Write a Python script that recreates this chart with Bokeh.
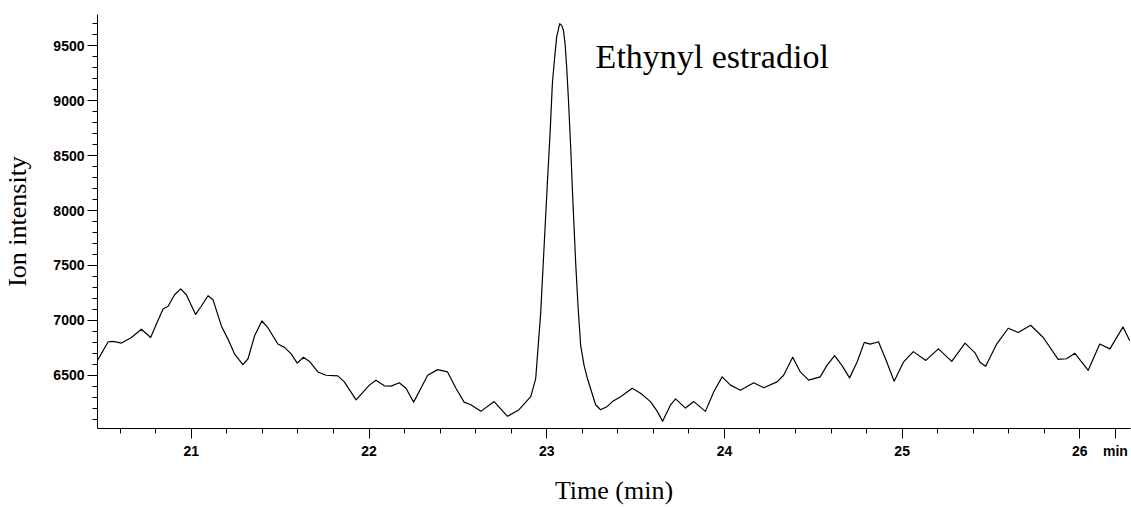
from bokeh.plotting import figure
from bokeh.models import FixedTicker, Range1d, Label
from bokeh.embed import file_html
from bokeh.resources import INLINE

# Retention time (min) and ion intensity
time_min = [20.466, 20.532, 20.560, 20.607, 20.663, 20.719, 20.771, 20.803, 20.841, 20.869,
            20.906, 20.940, 20.972, 21.024, 21.056, 21.094, 21.122, 21.169, 21.206, 21.243,
            21.290, 21.319, 21.356, 21.397, 21.431, 21.487, 21.524, 21.562, 21.596, 21.631,
            21.665, 21.712, 21.758, 21.824, 21.861, 21.927, 22.002, 22.039, 22.086, 22.124,
            22.170, 22.208, 22.251, 22.292, 22.330, 22.386, 22.442, 22.489, 22.535, 22.573,
            22.629, 22.704, 22.779, 22.844, 22.910, 22.938, 22.966, 22.985, 23.004, 23.019,
            23.032, 23.045, 23.056, 23.073, 23.084, 23.094, 23.103, 23.112, 23.122, 23.135,
            23.148, 23.163, 23.176, 23.191, 23.210, 23.229, 23.275, 23.303, 23.341,
            23.369, 23.416, 23.481, 23.528, 23.584, 23.622, 23.652, 23.697, 23.725, 23.781,
            23.828, 23.893, 23.940, 23.987, 24.034, 24.090, 24.165, 24.221, 24.296, 24.333,
            24.384, 24.427, 24.474, 24.539, 24.577, 24.620, 24.661, 24.704, 24.746, 24.787,
            24.820, 24.867, 24.914, 24.955, 25.007, 25.063, 25.133, 25.204, 25.279, 25.354,
            25.410, 25.438, 25.470, 25.532, 25.597, 25.653, 25.723, 25.794, 25.878, 25.925,
            25.972, 26.047, 26.112, 26.169, 26.243, 26.281]
intensity = [6619, 6805, 6808, 6793, 6844, 6919, 6844, 6964, 7104, 7128,
             7233, 7287, 7233, 7054, 7128, 7224, 7188, 6949, 6829, 6695,
             6596, 6650, 6859, 6994, 6933, 6784, 6754, 6695, 6610, 6664,
             6626, 6530, 6500, 6494, 6440, 6276, 6410, 6455, 6404, 6401,
             6431, 6381, 6255, 6381, 6500, 6551, 6530, 6381, 6255, 6231,
             6171, 6260, 6126, 6186, 6305, 6470, 7068, 7667, 8265, 8714,
             9163, 9401, 9581, 9701, 9686, 9641, 9522, 9312, 9013, 8564,
             8055, 7517, 7128, 6769, 6590, 6470, 6231, 6186, 6216,
             6260, 6305, 6381, 6336, 6260, 6171, 6081, 6231, 6285, 6201,
             6260, 6171, 6350, 6485, 6410, 6363, 6431, 6386, 6440, 6500,
             6664, 6530, 6455, 6485, 6590, 6679, 6590, 6476, 6619, 6799,
             6784, 6805, 6619, 6446, 6619, 6715, 6635, 6740, 6626, 6793,
             6704, 6619, 6581, 6784, 6928, 6889, 6955, 6844, 6644, 6650,
             6700, 6545, 6784, 6740, 6940, 6814]

x_major = [21, 22, 23, 24, 25, 26, 26.2]
x_labels = ["21", "22", "23", "24", "25", "26", "min"]
x_minor = [20.6, 20.8, 21.2, 21.4, 21.6, 21.8, 22.2, 22.4, 22.6, 22.8, 23.2, 23.4, 23.6, 23.8,
           24.2, 24.4, 24.6, 24.8, 25.2, 25.4, 25.6, 25.8]
y_major = [6500, 7000, 7500, 8000, 8500, 9000, 9500]
y_minor = [6100, 6200, 6300, 6400, 6600, 6700, 6800, 6900, 7100, 7200, 7300, 7400,
           7600, 7700, 7800, 7900, 8100, 8200, 8300, 8400, 8600, 8700, 8800, 8900,
           9100, 9200, 9300, 9400, 9600, 9700]

title_text = "Ethynyl estradiol"
x_label = "Time (min)"
y_label = "Ion intensity"

p = figure(width=1131, height=507, output_backend="svg", toolbar_location=None,
           x_range=Range1d(20.472, 26.285), y_range=Range1d(6015, 9785),
           min_border_left=96, min_border_right=1, min_border_top=14, min_border_bottom=73)
p.outline_line_color = None
p.grid.visible = False
p.background_fill_color = "white"
p.border_fill_color = "white"

p.line(time_min, intensity, line_color="black", line_width=1.2, line_join="round")

for ax in (p.xaxis[0], p.yaxis[0]):
    ax.axis_line_color = "black"
    ax.axis_line_width = 1
    ax.major_tick_line_color = "black"
    ax.minor_tick_line_color = "black"
    ax.major_tick_out = 10
    ax.major_tick_in = 0
    ax.minor_tick_out = 5
    ax.minor_tick_in = 0
    ax.major_label_text_font = "Liberation Sans"
    ax.major_label_text_font_style = "bold"
    ax.major_label_text_font_size = "14px"
    ax.major_label_text_color = "black"
    ax.axis_label_text_font = "Liberation Serif"
    ax.axis_label_text_font_style = "normal"
    ax.axis_label_text_font_size = "26px"
    ax.axis_label_text_color = "black"

p.xaxis[0].ticker = FixedTicker(ticks=x_major, minor_ticks=x_minor)
p.xaxis[0].major_label_overrides = {t: s for t, s in zip(x_major, x_labels)}
p.yaxis[0].ticker = FixedTicker(ticks=y_major, minor_ticks=y_minor)
p.xaxis[0].axis_label = x_label
p.yaxis[0].axis_label = y_label
p.xaxis[0].major_label_standoff = 4
p.yaxis[0].major_label_standoff = 3
p.xaxis[0].axis_label_standoff = 14
p.yaxis[0].axis_label_standoff = 18

p.add_layout(Label(x=23.275, y=9400, text=title_text, text_font="Liberation Serif",
                   text_font_size="34px", text_color="black",
                   text_align="left", text_baseline="alphabetic"))

open("out.html", "w").write(file_html(p, INLINE))
